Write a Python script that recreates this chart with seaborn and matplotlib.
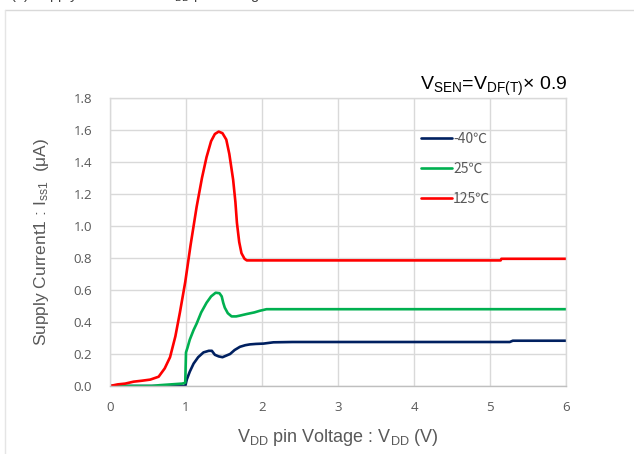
import matplotlib
matplotlib.use("Agg")
import matplotlib.pyplot as plt
import seaborn as sns
import pandas as pd
from matplotlib.lines import Line2D

# ---- data ----
temps = ["-40℃", "25℃", "125℃"]
colors = ["#002060", "#00B050", "#FF0000"]

v_m40 = [0.0, 0.5, 0.99, 1.01, 1.05, 1.10, 1.16, 1.23, 1.30, 1.34, 1.38, 1.43, 1.48, 1.53, 1.58,
         1.64, 1.71, 1.78, 1.84, 1.92, 2.02, 2.10, 2.15, 2.4, 3.0, 4.0, 5.0, 5.26, 5.30, 6.0]
i_m40 = [0.0, 0.0, 0.0, 0.04, 0.09, 0.14, 0.18, 0.21, 0.22, 0.22, 0.195, 0.185, 0.18, 0.19, 0.20,
         0.225, 0.245, 0.255, 0.26, 0.263, 0.265, 0.27, 0.273, 0.275, 0.275, 0.275, 0.275, 0.275, 0.283, 0.283]

v_25 = [0.0, 0.55, 0.65, 0.80, 0.95, 0.99, 1.0, 1.02, 1.05, 1.10, 1.14, 1.20, 1.27, 1.33, 1.39, 1.44,
        1.47, 1.49, 1.51, 1.55, 1.60, 1.66, 1.71, 1.80, 1.90, 1.97, 2.06, 2.5, 3.5, 4.5, 6.0]
i_25 = [0.0, 0.0, 0.005, 0.01, 0.015, 0.02, 0.21, 0.24, 0.29, 0.35, 0.39, 0.46, 0.52, 0.56, 0.583, 0.58,
        0.56, 0.52, 0.49, 0.455, 0.435, 0.435, 0.44, 0.45, 0.46, 0.47, 0.48, 0.48, 0.48, 0.48, 0.48]

v_125 = [0.0, 0.1, 0.2, 0.31, 0.42, 0.53, 0.64, 0.72, 0.79, 0.86, 0.92, 0.99, 1.06, 1.14, 1.21,
         1.27, 1.33, 1.38, 1.43, 1.48, 1.53, 1.57, 1.62, 1.65, 1.67, 1.70, 1.73, 1.77, 1.80, 2.5,
         3.5, 4.5, 5.14, 5.15, 6.0]
i_125 = [0.0, 0.01, 0.015, 0.027, 0.033, 0.04, 0.058, 0.11, 0.18, 0.31, 0.46, 0.65, 0.88, 1.12, 1.30,
         1.43, 1.53, 1.575, 1.59, 1.58, 1.54, 1.45, 1.29, 1.15, 1.02, 0.90, 0.83, 0.795, 0.785, 0.785,
         0.785, 0.785, 0.785, 0.795, 0.795]

x_ticks = [0, 1, 2, 3, 4, 5, 6]
y_ticks = [0.0, 0.2, 0.4, 0.6, 0.8, 1.0, 1.2, 1.4, 1.6, 1.8]

frames = []
for t, xs, ys in zip(temps, [v_m40, v_25, v_125], [i_m40, i_25, i_125]):
    frames.append(pd.DataFrame({"V": xs, "I": ys, "T": t}))
df = pd.concat(frames, ignore_index=True)

# ---- figure ----
sns.set_style("white")
plt.rcParams["font.family"] = ["Liberation Sans", "DejaVu Sans"]
plt.rcParams["mathtext.default"] = "regular"

fig = plt.figure(figsize=(6.34, 4.54), dpi=100)
ax = fig.add_axes([110 / 634, 68 / 454, 456 / 634, 288 / 454])

sns.lineplot(data=df, x="V", y="I", hue="T", hue_order=temps, palette=colors,
             sort=False, estimator=None, linewidth=1.9, ax=ax, legend=False)

ax.set_xlim(0, 6)
ax.set_ylim(0, 1.8)
ax.set_xticks(x_ticks)
ax.set_yticks(y_ticks)
ax.set_xticklabels([str(v) for v in x_ticks], family=["Open Sans", "DejaVu Sans"])
ax.set_yticklabels([f"{v:.1f}" for v in y_ticks], family=["Open Sans", "DejaVu Sans"])
ax.tick_params(axis="both", colors="#595959", labelsize=9.5, length=0)
ax.tick_params(axis="x", pad=11)
ax.tick_params(axis="y", pad=13)
ax.grid(True, color="#d9d9d9", linewidth=1.0)
ax.set_axisbelow(True)
for side, sp in ax.spines.items():
    sp.set_color("#d9d9d9")
    sp.set_linewidth(1.0)
ax.spines["bottom"].set_color("#bfbfbf")

ax.set_xlabel("V$_{DD}$ pin Voltage : V$_{DD}$ (V)", fontsize=13, color="#595959", labelpad=9)
ax.set_ylabel("Supply Current1 : I$_{ss1}$  (μA)", fontsize=12.5, color="#595959", labelpad=16)

# legend
handles = [Line2D([0], [0], color=c, linewidth=1.9) for c in colors]
leg = ax.legend(handles, temps, loc="upper left", bbox_to_anchor=(0.655, 0.925), frameon=False,
                handlelength=2.2, handletextpad=0.1, labelspacing=1.15,
                prop={"family": ["Noto Sans CJK JP", "DejaVu Sans"], "size": 10})
for txt in leg.get_texts():
    txt.set_color("#595959")

# annotation
ax.annotate("V$_{SEN}$=V$_{DF(T)}$" + "× 0.9", xy=(1.0, 1.0), xycoords="axes fraction",
            xytext=(1, 0), textcoords="offset points", ha="right", va="bottom",
            fontsize=14, color="black")

# cut-off title at top and chart frame
fig.text(10 / 634, 1.0 + 1 / 454, "(a) Supply Current1 vs. V$_{DD}$ pin Voltage", ha="left",
         va="baseline", fontsize=10.5, color="#404040")
fig.add_artist(Line2D([5 / 634, 1.0], [1 - 10 / 454, 1 - 10 / 454], color="#d9d9d9", linewidth=1.0,
                      transform=fig.transFigure))
fig.add_artist(Line2D([5 / 634, 5 / 634], [0.0, 1 - 10 / 454], color="#e5e5e5", linewidth=1.0,
                      transform=fig.transFigure))

fig.savefig("out.png", dpi=100)
